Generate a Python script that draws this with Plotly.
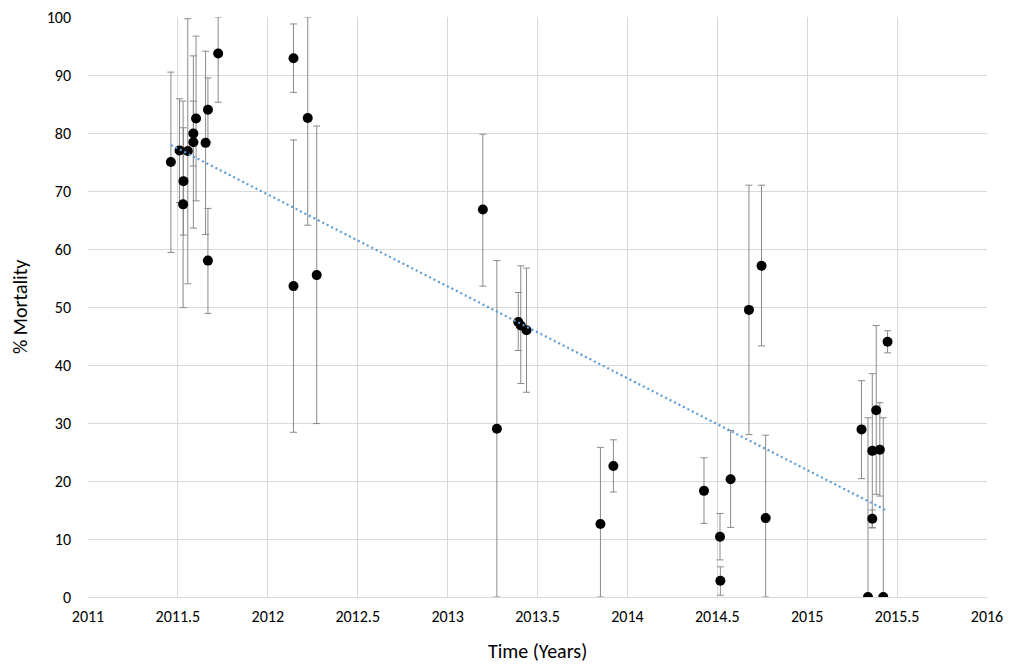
import numpy as np
import plotly.graph_objects as go

years = [2011.461, 2011.509, 2011.529, 2011.531, 2011.555, 2011.586, 2011.586, 2011.601,
         2011.654, 2011.667, 2011.667, 2011.724, 2012.143, 2012.143, 2012.222, 2012.272,
         2013.196, 2013.274, 2013.393, 2013.407, 2013.439, 2013.850, 2013.922, 2014.426,
         2014.515, 2014.517, 2014.574, 2014.676, 2014.746, 2014.769, 2015.302, 2015.338,
         2015.362, 2015.362, 2015.384, 2015.404, 2015.423, 2015.447]
mortality = [75.0, 77.0, 67.7, 71.7, 76.9, 79.9, 78.4, 82.5,
             78.3, 84.0, 58.0, 93.7, 92.9, 53.6, 82.6, 55.5,
             66.8, 29.0, 47.4, 46.8, 46.0, 12.6, 22.6, 18.3,
             10.4, 2.8, 20.3, 49.5, 57.1, 13.6, 28.9, 0.0,
             25.2, 13.5, 32.2, 25.4, 0.0, 44.0]
err_plus = [15.5, 8.9, 17.8, 9.2, 22.8, 5.6, 14.9, 14.2,
            15.8, 5.5, 9.0, 6.3, 5.9, 25.2, 17.4, 25.7,
            13.0, 29.0, 5.1, 10.3, 10.7, 13.2, 4.5, 5.7,
            4.0, 2.4, 8.4, 21.5, 13.9, 14.3, 8.4, 30.9,
            13.3, 1.5, 14.6, 8.1, 30.9, 1.9]
err_minus = [15.6, 9.0, 17.8, 9.3, 22.9, 5.6, 14.8, 14.2,
             15.8, 5.6, 9.1, 8.4, 5.9, 25.2, 18.5, 25.6,
             13.2, 29.0, 4.9, 10.0, 10.7, 12.6, 4.5, 5.6,
             4.0, 2.5, 8.3, 21.5, 13.8, 13.6, 8.5, 0.0,
             13.3, 1.5, 14.5, 8.0, 0.0, 1.9]

x_ticks = [2011, 2011.5, 2012, 2012.5, 2013, 2013.5, 2014, 2014.5, 2015, 2015.5, 2016]
x_labels = ["2011", "2011.5", "2012", "2012.5", "2013", "2013.5", "2014", "2014.5",
            "2015", "2015.5", "2016"]
y_ticks = [0, 10, 20, 30, 40, 50, 60, 70, 80, 90, 100]
x_title = "Time (Years)"
y_title = "% Mortality"

# linear trendline (least squares) from the data
xa = np.array(years)
ya = np.array(mortality)
slope, intercept = np.polyfit(xa, ya, 1)
trend_x = [xa.min(), xa.max()]
trend_y = [slope * v + intercept for v in trend_x]

FONT = "Carlito, 'Liberation Sans Narrow', 'DejaVu Sans Condensed', 'Open Sans', sans-serif"

fig = go.Figure()
fig.add_trace(go.Scatter(
    x=years, y=mortality, mode="markers",
    marker=dict(color="black", size=10),
    error_y=dict(type="data", symmetric=False, array=err_plus, arrayminus=err_minus,
                 color="#8a8a8a", thickness=1, width=3.5),
    showlegend=False,
))
fig.add_trace(go.Scatter(
    x=trend_x, y=trend_y, mode="lines",
    line=dict(color="#5B9BD5", width=2.2, dash="2px,3px"),
    showlegend=False,
))

fig.update_layout(
    width=1009, height=671,
    margin=dict(l=88, r=22, t=17, b=74, autoexpand=False),
    paper_bgcolor="white", plot_bgcolor="white",
    font=dict(family=FONT, color="#000000", size=16),
    annotations=[
        dict(text=x_title, xref="paper", yref="paper", x=0.5, y=0, yshift=-54,
             showarrow=False, xanchor="center", yanchor="middle",
             font=dict(size=20, family=FONT)),
        dict(text=y_title, xref="paper", yref="paper", x=0, y=0.5, xshift=-68,
             showarrow=False, xanchor="center", yanchor="middle", textangle=-90,
             font=dict(size=20, family=FONT)),
    ],
)
fig.update_xaxes(
    range=[2011, 2016], tickvals=x_ticks, ticktext=x_labels,
    showgrid=True, gridcolor="#D9D9D9", gridwidth=1,
    zeroline=False, showline=False, ticks="", automargin=False,
    ticklabelstandoff=8, ticklabeloverflow="allow",
    tickfont=dict(size=16, family=FONT),
)
fig.update_yaxes(
    range=[0, 100], tickvals=y_ticks,
    showgrid=True, gridcolor="#D9D9D9", gridwidth=1,
    zeroline=True, zerolinecolor="#D9D9D9", zerolinewidth=1,
    showline=False, ticks="", automargin=False,
    ticklabelstandoff=16, ticklabeloverflow="allow",
    tickfont=dict(size=16, family=FONT),
)

fig.write_html("out.html",
               config={"displayModeBar": False},
               post_script="document.body.style.margin='0';document.body.style.overflow='hidden';")
